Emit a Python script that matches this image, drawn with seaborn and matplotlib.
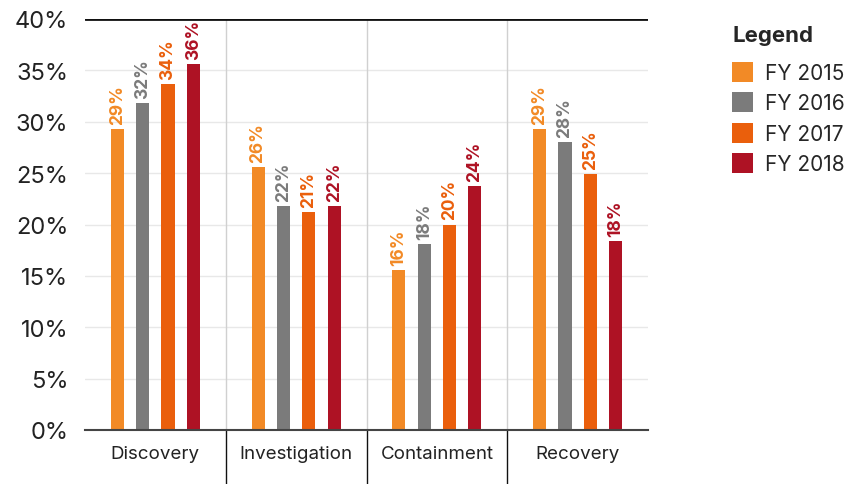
import numpy as np
import pandas as pd
import matplotlib
matplotlib.use("Agg")
import matplotlib.pyplot as plt
import matplotlib.transforms as mtransforms
import seaborn as sns

# data
phases = ["Discovery", "Investigation", "Containment", "Recovery"]
years = ["FY 2015", "FY 2016", "FY 2017", "FY 2018"]
fy2015 = [29.3, 25.6, 15.6, 29.3]
fy2016 = [31.8, 21.8, 18.1, 28.0]
fy2017 = [33.7, 21.2, 20.0, 24.9]
fy2018 = [35.6, 21.8, 23.7, 18.4]
colors = ["#F28A26", "#7B7B7B", "#EA5F0C", "#AE1224"]

df = pd.DataFrame({
    "phase": phases * 4,
    "year": np.repeat(years, 4),
    "value": fy2015 + fy2016 + fy2017 + fy2018,
})

sns.set_theme(style="white")
plt.rcParams["font.family"] = ["Inter", "DejaVu Sans"]

fig = plt.figure(figsize=(8.57, 4.85), dpi=100)
ax = fig.add_axes([85 / 857, 1 - 431 / 485, (648 - 85) / 857, 411 / 485])

sns.barplot(data=df, x="phase", y="value", hue="year", hue_order=years,
            palette=colors, width=0.72, gap=0.48, saturation=1,
            edgecolor="none", ax=ax, legend=True)

ax.set_xlim(-0.5, 3.5)
ax.set_ylim(0, 40)
ax.set_yticks(np.arange(0, 41, 5))
ax.set_yticklabels([f"{v}%" for v in range(0, 41, 5)], fontsize=17, color="#222222")
ax.set_xlabel("")
ax.set_ylabel("")
ax.tick_params(axis="x", labelsize=13.5, colors="#222222", length=0, pad=11)
ax.tick_params(axis="y", length=0, pad=12)

for y in range(5, 40, 5):
    ax.axhline(y, color="#E8E8E8", lw=1, zorder=0)
ax.axhline(40, color="#111111", lw=2, zorder=3)

for s in ["left", "right", "top"]:
    ax.spines[s].set_visible(False)
ax.spines["bottom"].set_color("#444444")
ax.spines["bottom"].set_linewidth(1.5)

trans = mtransforms.blended_transform_factory(ax.transData, ax.transAxes)
for xs in [0.5, 1.5, 2.5]:
    ax.plot([xs, xs], [0, 1], color="#D0D0D0", lw=1, transform=trans, zorder=0)
    ax.plot([xs, xs], [0, -0.14], color="#111111", lw=1, transform=trans, clip_on=False)

for cont, col in zip(ax.containers, colors):
    for bar in cont:
        h = bar.get_height()
        ax.text(bar.get_x() + bar.get_width() / 2, h + 0.5, f"{h:.0f}%",
                rotation=90, ha="center", va="bottom", fontsize=12.5,
                fontweight="bold", color=col)

leg = ax.legend(loc="upper left", bbox_to_anchor=(1.135, 1.005), frameon=False,
                title="Legend", fontsize=15, handlelength=1.0, handleheight=1.1,
                handletextpad=0.55, labelspacing=0.45, borderaxespad=0)
leg.get_title().set_fontweight("bold")
leg.get_title().set_fontsize(16)
leg._legend_box.align = "left"
leg._legend_box.sep = 12

fig.savefig("out.png", dpi=100)
